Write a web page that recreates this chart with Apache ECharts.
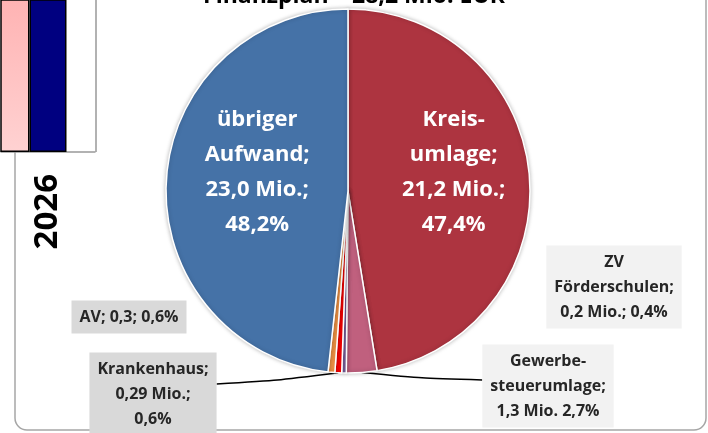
<!DOCTYPE html>
<html>
<head>
<meta charset="utf-8">
<script src="https://cdn.jsdelivr.net/npm/echarts@6/dist/echarts.min.js"></script>
<style>
html, body { margin: 0; padding: 0; background: #fff; }
#container { width: 708px; height: 433px; }
</style>
</head>
<body>
<div id="container"></div>
<script type="text/javascript">
// pie data (clockwise from 12 o'clock)
var names = ['Kreis-\numlage', 'Gewerbe-\nsteuerumlage', 'ZV\nFörderschulen', 'Krankenhaus', 'AV', 'übriger\nAufwand'];
var mioValues = [21.2, 1.3, 0.2, 0.29, 0.3, 23.0];
var mioDigits = [1, 1, 1, 2, 1, 1];
var pctValues = [47.4, 2.7, 0.4, 0.6, 0.6, 48.2];
var colors = ['#ad3440', '#c0607e', '#8064a2', '#ff0000', '#f79646', '#4572a7'];

// fragment of the bar chart on the left (tops are cut off)
var barCategories = ['2026'];
var barPink = [12];
var barNavy = [12.5];

var titleText = 'Finanzplan – 28,2 Mio. EUR';

function fmt(v, d) {
    return v.toFixed(d).replace('.', ',');
}

function labelText(i) {
    var m = fmt(mioValues[i], mioDigits[i]);
    var p = fmt(pctValues[i], 1) + '%';
    switch (i) {
        case 1: return names[i] + ';\n' + m + ' Mio. ' + p;
        case 2: return names[i] + ';\n' + m + ' Mio.; ' + p;
        case 4: return names[i] + '; ' + m + '; ' + p;
        default: return names[i] + ';\n' + m + ' Mio.;\n' + p;
    }
}

// where the small grey label boxes sit (centre x, centre y)
var boxPos = {
    1: [548, 386],
    2: [614, 287],
    3: [153, 394],
    4: [129, 317]
};

var FONT = '"Open Sans", Lato, sans-serif';

var pieData = names.map(function (n, i) {
    var item = {
        name: n,
        value: pctValues[i],
        itemStyle: { color: colors[i] }
    };
    if (i === 0 || i === 5) {
        item.label = {
            position: 'inside',
            color: '#fff',
            fontSize: 22,
            fontWeight: 'bold',
            lineHeight: 35,
            backgroundColor: 'transparent',
            padding: 0,
            offset: i === 0 ? [12, -11] : [3, -14]
        };
        item.labelLine = { show: false };
    } else {
        item.label = {
            backgroundColor: (i === 1 || i === 2) ? '#f2f2f2' : '#d9d9d9'
        };
        item.labelLine = { show: i === 1 || i === 3 };
    }
    return item;
});

var dom = document.getElementById('container');
var myChart = echarts.init(dom);
var option = {
    animation: false,
    textStyle: { fontFamily: FONT },
    title: {
        text: titleText,
        left: 'center',
        top: -20,
        textStyle: { fontFamily: FONT, fontSize: 23, fontWeight: 'bold', color: '#000' }
    },
    graphic: [
        {
            type: 'rect',
            z: 0,
            shape: { x: 15, y: -30, width: 691, height: 460, r: 12 },
            style: { fill: 'none', stroke: '#a6a6a6', lineWidth: 1.5 }
        },
        {
            type: 'rect',
            z: 1,
            shape: { x: 0, y: 0, width: 97, height: 151 },
            style: { fill: '#fff' }
        },
        {
            type: 'line',
            z: 1,
            shape: { x1: 96, y1: 0, x2: 96, y2: 152 },
            style: { stroke: '#999', lineWidth: 1.5 }
        }
    ],
    grid: { left: 1, width: 94, top: 0, height: 152 },
    xAxis: {
        type: 'category',
        data: barCategories,
        axisLine: { lineStyle: { color: '#999', width: 1.5 } },
        axisTick: { length: 9, lineStyle: { color: '#555', width: 1.5 } },
        axisLabel: {
            rotate: 90,
            margin: 22,
            fontSize: 33,
            fontWeight: 'bold',
            color: '#000',
            fontFamily: '"Liberation Sans Narrow", "Open Sans", sans-serif'
        }
    },
    yAxis: { type: 'value', show: false, min: 0, max: 10 },
    series: [
        {
            type: 'bar',
            data: barPink,
            barWidth: 37,
            barGap: '0%',
            itemStyle: {
                color: new echarts.graphic.LinearGradient(0, 0, 0, 1, [
                    { offset: 0, color: '#ffb3b3' },
                    { offset: 1, color: '#ffd2d2' }
                ]),
                borderColor: '#000',
                borderWidth: 1.5
            }
        },
        {
            type: 'bar',
            data: barNavy,
            barWidth: 37,
            itemStyle: { color: '#000080', borderColor: '#000', borderWidth: 1.5 }
        },
        {
            type: 'bar',
            data: ['-'],
            barWidth: 37
        },
        {
            type: 'pie',
            center: [348, 191],
            radius: [0, 182],
            startAngle: 90,
            clockwise: true,
            avoidLabelOverlap: false,
            z: 3,
            itemStyle: {
                borderColor: '#fff',
                borderWidth: 1.5,
                shadowBlur: 4,
                shadowColor: 'rgba(0,0,0,0.25)'
            },
            label: {
                show: true,
                position: 'outside',
                formatter: function (p) { return labelText(p.dataIndex); },
                color: '#262626',
                fontFamily: FONT,
                fontSize: 16,
                fontWeight: 'bold',
                lineHeight: 25,
                align: 'center',
                padding: [4, 8, 4, 8]
            },
            labelLine: {
                show: false,
                smooth: 0.2,
                lineStyle: { color: '#000', width: 1.5 }
            },
            labelLayout: function (params) {
                var pos = boxPos[params.dataIndex];
                if (!pos) {
                    return {};
                }
                var out = {
                    x: pos[0],
                    y: pos[1],
                    align: 'center',
                    verticalAlign: 'middle'
                };
                var pts = params.labelLinePoints;
                if (pts && (params.dataIndex === 1 || params.dataIndex === 3)) {
                    var w = params.labelRect.width;
                    var ex = params.dataIndex === 1 ? pos[0] - w / 2 : pos[0] + w / 2;
                    var ey = params.dataIndex === 1 ? pos[1] - 6 : pos[1] - 10;
                    var s = pts[0];
                    out.labelLinePoints = [
                        [s[0], s[1]],
                        [(s[0] + ex) / 2, (s[1] + ey) / 2 + 2],
                        [ex, ey]
                    ];
                }
                return out;
            },
            data: pieData
        }
    ]
};

if (option && typeof option === 'object') {
    myChart.setOption(option, true);
}
</script>
</body>
</html>
